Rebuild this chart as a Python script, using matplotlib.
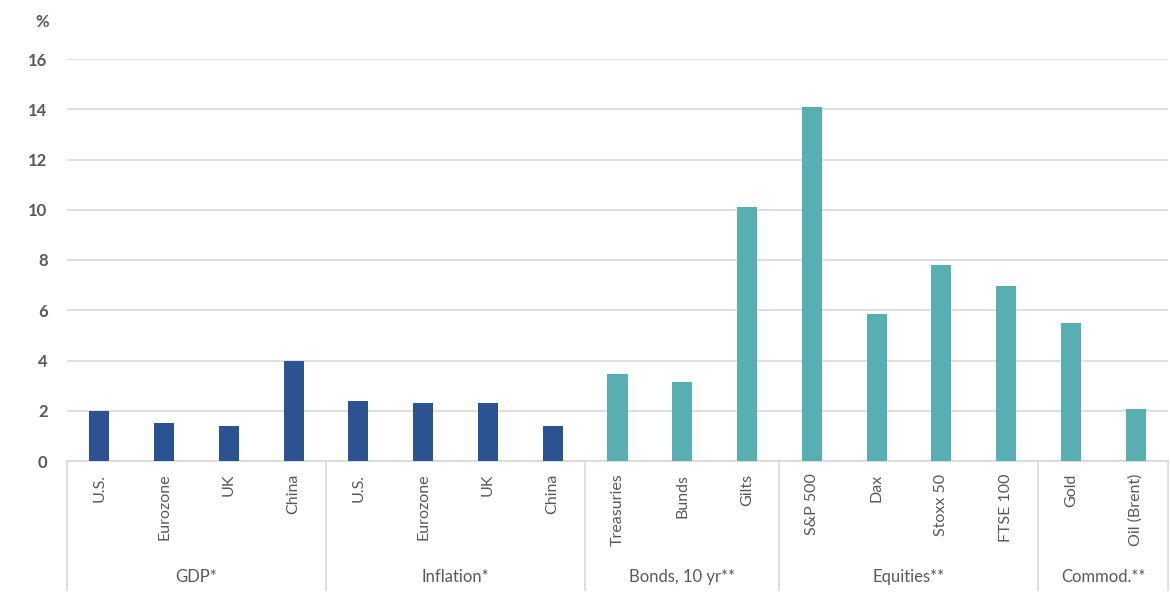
import matplotlib.pyplot as plt
import numpy as np

plt.rcParams['font.family'] = ['Lato', 'DejaVu Sans']

# Data
categories = ['U.S.', 'Eurozone', 'UK', 'China',
              'U.S.', 'Eurozone', 'UK', 'China',
              'Treasuries', 'Bunds', 'Gilts',
              'S&P 500', 'Dax', 'Stoxx 50', 'FTSE 100',
              'Gold', 'Oil (Brent)']
values = [2.0, 1.5, 1.4, 4.0,
          2.4, 2.3, 2.3, 1.4,
          3.45, 3.15, 10.1,
          14.1, 5.85, 7.8, 6.95,
          5.5, 2.05]
groups = ['GDP*', 'Inflation*', 'Bonds, 10 yr**', 'Equities**', 'Commod.**']
group_sizes = [4, 4, 3, 4, 2]
group_colors = ['#2C5391', '#2C5391', '#58AFB2', '#58AFB2', '#58AFB2']

txt_col = '#595959'
grid_col = '#D9D9D9'

fig = plt.figure(figsize=(11.71, 6.04), dpi=100)
ax = fig.add_axes([67 / 1171, 1 - 461 / 604, 1101 / 1171, 402 / 604])

colors = []
for g, n in zip(group_colors, group_sizes):
    colors += [g] * n

x = np.arange(len(categories))
ax.bar(x, values, width=0.31, color=colors, zorder=3)

ax.set_xlim(-0.5, len(categories) - 0.5)
ax.set_ylim(0, 16)
ax.set_yticks(np.arange(0, 17, 2))
ax.yaxis.grid(True, color=grid_col, lw=1.2, zorder=0)
ax.tick_params(axis='y', length=0, pad=14, labelsize=12, labelcolor=txt_col)
for lbl in ax.get_yticklabels():
    lbl.set_fontweight('bold')

ax.set_xticks(x)
ax.set_xticklabels(categories, rotation=90, fontsize=11.5, color=txt_col,
                   va='top')
ax.tick_params(axis='x', length=0, pad=9)

for s in ['top', 'right', 'left']:
    ax.spines[s].set_visible(False)
ax.spines['bottom'].set_color(grid_col)
ax.spines['bottom'].set_linewidth(1.2)

# group separators and labels
tr = ax.get_xaxis_transform()
edges = np.concatenate([[0], np.cumsum(group_sizes)]) - 0.5
for e in edges:
    ax.plot([e, e], [0, -0.321], transform=tr, color=grid_col, lw=1.2,
            clip_on=False)
for i, g in enumerate(groups):
    mid = (edges[i] + edges[i + 1]) / 2
    ax.text(mid, -0.289, g, transform=tr, ha='center', va='center',
            fontsize=12, color=txt_col)

fig.text(42 / 1171, 1 - 22 / 604, '%', ha='center', va='center',
         fontsize=12, fontweight='bold', color=txt_col)

plt.savefig('out.png', dpi=100)
